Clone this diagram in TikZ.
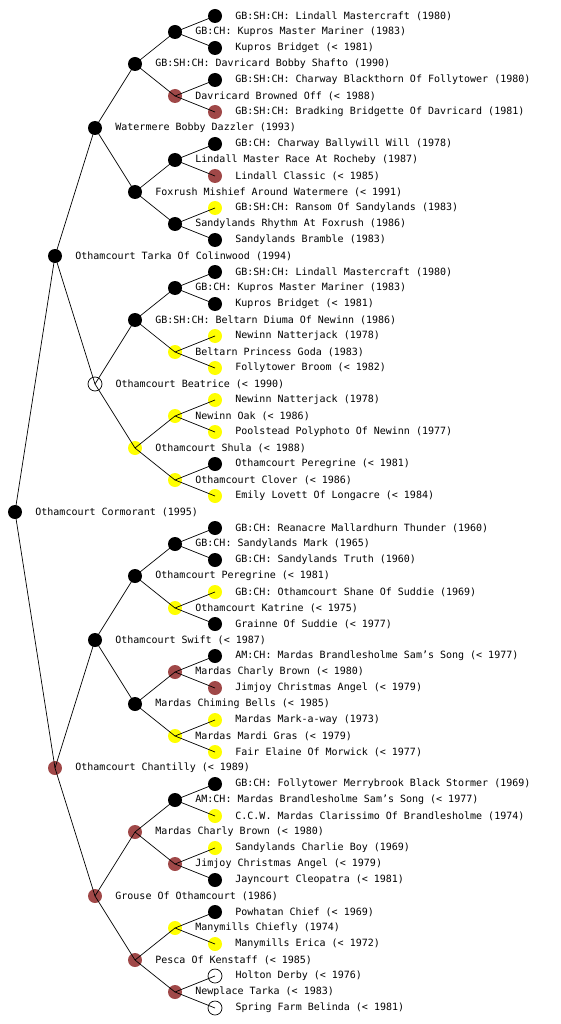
\documentclass[tikz,border=0pt]{standalone}
\usepackage{fontspec}
\setmonofont{DejaVu Sans Mono}
\usepackage{tikz}
\usetikzlibrary{positioning}
\usepackage{xcolor}
\definecolor{dogbrown}{RGB}{160,72,72}
\definecolor{dogyellow}{RGB}{255,255,0}

\begin{document}
\begin{tikzpicture}[x=1pt, y=-1pt,
    pers/.style={circle, minimum size=14pt, inner sep=0pt},
    blk/.style={pers, fill=black},
    brn/.style={pers, fill=dogbrown},
    ylw/.style={pers, fill=dogyellow},
    unk/.style={pers, draw=black, line width=0.7pt},
    lbl/.style={font=\ttfamily\fontsize{10}{12}\selectfont, inner sep=0pt, text=black, xshift=13pt},
    line/.style={draw=black, line width=0.7pt}
]
\useasboundingbox (0,0) rectangle (560,1024);

% dog, parents, grandparents
\node[blk, label={[lbl]right:{Othamcourt Cormorant (1995)}}] (root) at (15,512) {};
\node[blk, label={[lbl]right:{Othamcourt Tarka Of Colinwood (1994)}}] (s) at (55,256) {};
\node[brn, label={[lbl]right:{Othamcourt Chantilly (< 1989)}}] (d) at (55,768) {};
\node[blk, label={[lbl]right:{Watermere Bobby Dazzler (1993)}}] (ss) at (95,128) {};
\node[unk, label={[lbl]right:{Othamcourt Beatrice (< 1990)}}] (sd) at (95,384) {};
\node[blk, label={[lbl]right:{Othamcourt Swift (< 1987)}}] (ds) at (95,640) {};
\node[brn, label={[lbl]right:{Grouse Of Othamcourt (1986)}}] (dd) at (95,896) {};

% great-grandparents
\node[blk, label={[lbl]right:{GB:SH:CH: Davricard Bobby Shafto (1990)}}] (sss) at (135,64) {};
\node[blk, label={[lbl]right:{Foxrush Mishief Around Watermere (< 1991)}}] (ssd) at (135,192) {};
\node[blk, label={[lbl]right:{GB:SH:CH: Beltarn Diuma Of Newinn (1986)}}] (sds) at (135,320) {};
\node[ylw, label={[lbl]right:{Othamcourt Shula (< 1988)}}] (sdd) at (135,448) {};
\node[blk, label={[lbl]right:{Othamcourt Peregrine (< 1981)}}] (dss) at (135,576) {};
\node[blk, label={[lbl]right:{Mardas Chiming Bells (< 1985)}}] (dsd) at (135,704) {};
\node[brn, label={[lbl]right:{Mardas Charly Brown (< 1980)}}] (dds) at (135,832) {};
\node[brn, label={[lbl]right:{Pesca Of Kenstaff (< 1985)}}] (ddd) at (135,960) {};

% 4th generation
\node[blk, label={[lbl]right:{GB:CH: Kupros Master Mariner (1983)}}] (ssss) at (175,32) {};
\node[brn, label={[lbl]right:{Davricard Browned Off (< 1988)}}] (sssd) at (175,96) {};
\node[blk, label={[lbl]right:{Lindall Master Race At Rocheby (1987)}}] (ssds) at (175,160) {};
\node[blk, label={[lbl]right:{Sandylands Rhythm At Foxrush (1986)}}] (ssdd) at (175,224) {};
\node[blk, label={[lbl]right:{GB:CH: Kupros Master Mariner (1983)}}] (sdss) at (175,288) {};
\node[ylw, label={[lbl]right:{Beltarn Princess Goda (1983)}}] (sdsd) at (175,352) {};
\node[ylw, label={[lbl]right:{Newinn Oak (< 1986)}}] (sdds) at (175,416) {};
\node[ylw, label={[lbl]right:{Othamcourt Clover (< 1986)}}] (sddd) at (175,480) {};
\node[blk, label={[lbl]right:{GB:CH: Sandylands Mark (1965)}}] (dsss) at (175,544) {};
\node[ylw, label={[lbl]right:{Othamcourt Katrine (< 1975)}}] (dssd) at (175,608) {};
\node[brn, label={[lbl]right:{Mardas Charly Brown (< 1980)}}] (dsds) at (175,672) {};
\node[ylw, label={[lbl]right:{Mardas Mardi Gras (< 1979)}}] (dsdd) at (175,736) {};
\node[blk, label={[lbl]right:{AM:CH: Mardas Brandlesholme Sam’s Song (< 1977)}}] (ddss) at (175,800) {};
\node[brn, label={[lbl]right:{Jimjoy Christmas Angel (< 1979)}}] (ddsd) at (175,864) {};
\node[ylw, label={[lbl]right:{Manymills Chiefly (1974)}}] (ddds) at (175,928) {};
\node[brn, label={[lbl]right:{Newplace Tarka (< 1983)}}] (dddd) at (175,992) {};

% 5th generation
\node[blk, label={[lbl]right:{GB:SH:CH: Lindall Mastercraft (1980)}}] (sssss) at (215,16) {};
\node[blk, label={[lbl]right:{Kupros Bridget (< 1981)}}] (ssssd) at (215,48) {};
\node[blk, label={[lbl]right:{GB:SH:CH: Charway Blackthorn Of Follytower (1980)}}] (sssds) at (215,80) {};
\node[brn, label={[lbl]right:{GB:SH:CH: Bradking Bridgette Of Davricard (1981)}}] (sssdd) at (215,112) {};
\node[blk, label={[lbl]right:{GB:CH: Charway Ballywill Will (1978)}}] (ssdss) at (215,144) {};
\node[brn, label={[lbl]right:{Lindall Classic (< 1985)}}] (ssdsd) at (215,176) {};
\node[ylw, label={[lbl]right:{GB:SH:CH: Ransom Of Sandylands (1983)}}] (ssdds) at (215,208) {};
\node[blk, label={[lbl]right:{Sandylands Bramble (1983)}}] (ssddd) at (215,240) {};
\node[blk, label={[lbl]right:{GB:SH:CH: Lindall Mastercraft (1980)}}] (sdsss) at (215,272) {};
\node[blk, label={[lbl]right:{Kupros Bridget (< 1981)}}] (sdssd) at (215,304) {};
\node[ylw, label={[lbl]right:{Newinn Natterjack (1978)}}] (sdsds) at (215,336) {};
\node[ylw, label={[lbl]right:{Follytower Broom (< 1982)}}] (sdsdd) at (215,368) {};
\node[ylw, label={[lbl]right:{Newinn Natterjack (1978)}}] (sddss) at (215,400) {};
\node[ylw, label={[lbl]right:{Poolstead Polyphoto Of Newinn (1977)}}] (sddsd) at (215,432) {};
\node[blk, label={[lbl]right:{Othamcourt Peregrine (< 1981)}}] (sddds) at (215,464) {};
\node[ylw, label={[lbl]right:{Emily Lovett Of Longacre (< 1984)}}] (sdddd) at (215,496) {};
\node[blk, label={[lbl]right:{GB:CH: Reanacre Mallardhurn Thunder (1960)}}] (dssss) at (215,528) {};
\node[blk, label={[lbl]right:{GB:CH: Sandylands Truth (1960)}}] (dsssd) at (215,560) {};
\node[ylw, label={[lbl]right:{GB:CH: Othamcourt Shane Of Suddie (1969)}}] (dssds) at (215,592) {};
\node[blk, label={[lbl]right:{Grainne Of Suddie (< 1977)}}] (dssdd) at (215,624) {};
\node[blk, label={[lbl]right:{AM:CH: Mardas Brandlesholme Sam’s Song (< 1977)}}] (dsdss) at (215,656) {};
\node[brn, label={[lbl]right:{Jimjoy Christmas Angel (< 1979)}}] (dsdsd) at (215,688) {};
\node[ylw, label={[lbl]right:{Mardas Mark-a-way (1973)}}] (dsdds) at (215,720) {};
\node[ylw, label={[lbl]right:{Fair Elaine Of Morwick (< 1977)}}] (dsddd) at (215,752) {};
\node[blk, label={[lbl]right:{GB:CH: Follytower Merrybrook Black Stormer (1969)}}] (ddsss) at (215,784) {};
\node[ylw, label={[lbl]right:{C.C.W. Mardas Clarissimo Of Brandlesholme (1974)}}] (ddssd) at (215,816) {};
\node[ylw, label={[lbl]right:{Sandylands Charlie Boy (1969)}}] (ddsds) at (215,848) {};
\node[blk, label={[lbl]right:{Jayncourt Cleopatra (< 1981)}}] (ddsdd) at (215,880) {};
\node[blk, label={[lbl]right:{Powhatan Chief (< 1969)}}] (dddss) at (215,912) {};
\node[ylw, label={[lbl]right:{Manymills Erica (< 1972)}}] (dddsd) at (215,944) {};
\node[unk, label={[lbl]right:{Holton Derby (< 1976)}}] (dddds) at (215,976) {};
\node[unk, label={[lbl]right:{Spring Farm Belinda (< 1981)}}] (ddddd) at (215,1008) {};

% parent links
\draw[line] (root.center) -- (s.center) (root.center) -- (d.center);
\draw[line] (s.center) -- (ss.center) (s.center) -- (sd.center);
\draw[line] (d.center) -- (ds.center) (d.center) -- (dd.center);
\draw[line] (ss.center) -- (sss.center) (ss.center) -- (ssd.center);
\draw[line] (sd.center) -- (sds.center) (sd.center) -- (sdd.center);
\draw[line] (ds.center) -- (dss.center) (ds.center) -- (dsd.center);
\draw[line] (dd.center) -- (dds.center) (dd.center) -- (ddd.center);
\draw[line] (sss.center) -- (ssss.center) (sss.center) -- (sssd.center);
\draw[line] (ssd.center) -- (ssds.center) (ssd.center) -- (ssdd.center);
\draw[line] (sds.center) -- (sdss.center) (sds.center) -- (sdsd.center);
\draw[line] (sdd.center) -- (sdds.center) (sdd.center) -- (sddd.center);
\draw[line] (dss.center) -- (dsss.center) (dss.center) -- (dssd.center);
\draw[line] (dsd.center) -- (dsds.center) (dsd.center) -- (dsdd.center);
\draw[line] (dds.center) -- (ddss.center) (dds.center) -- (ddsd.center);
\draw[line] (ddd.center) -- (ddds.center) (ddd.center) -- (dddd.center);
\draw[line] (ssss.center) -- (sssss.center) (ssss.center) -- (ssssd.center);
\draw[line] (sssd.center) -- (sssds.center) (sssd.center) -- (sssdd.center);
\draw[line] (ssds.center) -- (ssdss.center) (ssds.center) -- (ssdsd.center);
\draw[line] (ssdd.center) -- (ssdds.center) (ssdd.center) -- (ssddd.center);
\draw[line] (sdss.center) -- (sdsss.center) (sdss.center) -- (sdssd.center);
\draw[line] (sdsd.center) -- (sdsds.center) (sdsd.center) -- (sdsdd.center);
\draw[line] (sdds.center) -- (sddss.center) (sdds.center) -- (sddsd.center);
\draw[line] (sddd.center) -- (sddds.center) (sddd.center) -- (sdddd.center);
\draw[line] (dsss.center) -- (dssss.center) (dsss.center) -- (dsssd.center);
\draw[line] (dssd.center) -- (dssds.center) (dssd.center) -- (dssdd.center);
\draw[line] (dsds.center) -- (dsdss.center) (dsds.center) -- (dsdsd.center);
\draw[line] (dsdd.center) -- (dsdds.center) (dsdd.center) -- (dsddd.center);
\draw[line] (ddss.center) -- (ddsss.center) (ddss.center) -- (ddssd.center);
\draw[line] (ddsd.center) -- (ddsds.center) (ddsd.center) -- (ddsdd.center);
\draw[line] (ddds.center) -- (dddss.center) (ddds.center) -- (dddsd.center);
\draw[line] (dddd.center) -- (dddds.center) (dddd.center) -- (ddddd.center);
\end{tikzpicture}
\end{document}
